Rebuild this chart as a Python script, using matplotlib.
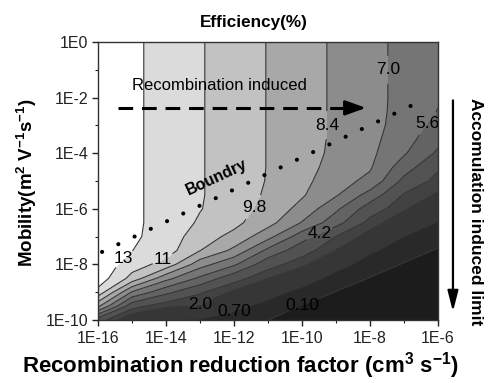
import numpy as np
import matplotlib
matplotlib.use("Agg")
import matplotlib.pyplot as plt

plt.rcParams["font.family"] = ["Liberation Sans", "DejaVu Sans"]
plt.rcParams["mathtext.default"] = "regular"

# log10 of the recombination reduction factor (cm^3 s^-1)
log_rrf = [-16, -15, -14, -13, -12, -11, -10, -9, -8, -7, -6]
# log10 of the mobility (m^2 V^-1 s^-1)
log_mu = [-10, -9.5, -9, -8.5, -8, -7.5, -7, -6.5, -6, -5.5, -5,
          -4.5, -4, -3.5, -3, -2.5, -2, -1, 0]

# efficiency (%) along the mobility axis, one list per recombination factor
eff_rrf_m16 = [3.38, 8.70, 12.15, 13.45, 13.65, 13.65, 13.65, 13.65, 13.65, 13.65,
               13.65, 13.65, 13.65, 13.65, 13.65, 13.65, 13.65, 13.65, 13.65]
eff_rrf_m15 = [1.04, 3.24, 6.86, 10.73, 11.86, 12.62, 12.82, 12.87, 12.87, 12.87,
               12.87, 12.87, 12.87, 12.87, 12.87, 12.87, 12.87, 12.87, 12.87]
eff_rrf_m14 = [0.70, 2.15, 4.55, 7.47, 10.68, 11.85, 12.05, 12.09, 12.09, 12.09,
               12.09, 12.09, 12.09, 12.09, 12.09, 12.09, 12.09, 12.09, 12.09]
eff_rrf_m13 = [0.60, 1.88, 2.95, 5.32, 7.60, 9.83, 10.43, 11.02, 11.26, 11.31,
               11.31, 11.31, 11.31, 11.31, 11.31, 11.31, 11.31, 11.31, 11.31]
eff_rrf_m12 = [0.40, 0.89, 1.81, 3.27, 5.83, 8.06, 9.43, 10.15, 10.45, 10.53,
               10.53, 10.53, 10.53, 10.53, 10.53, 10.53, 10.53, 10.53, 10.53]
eff_rrf_m11 = [0.098, 0.45, 1.00, 2.02, 3.29, 5.23, 7.47, 8.90, 9.30, 9.60,
               9.72, 9.75, 9.75, 9.75, 9.75, 9.75, 9.75, 9.75, 9.75]
eff_rrf_m10 = [0.04, 0.08, 0.44, 1.13, 2.20, 3.31, 4.80, 6.91, 7.97, 8.55,
               8.80, 8.92, 8.97, 8.97, 8.97, 8.97, 8.97, 8.97, 8.97]
eff_rrf_m9 = [0.02, 0.05, 0.08, 0.39, 1.01, 1.97, 2.78, 4.74, 5.88, 7.15,
              7.55, 7.90, 8.10, 8.17, 8.19, 8.19, 8.19, 8.19, 8.19]
eff_rrf_m8 = [0.01, 0.02, 0.04, 0.08, 0.33, 0.82, 1.64, 2.37, 3.46, 5.04,
              6.65, 7.15, 7.32, 7.39, 7.41, 7.41, 7.41, 7.41, 7.41]
eff_rrf_m7 = [0.005, 0.01, 0.02, 0.04, 0.07, 0.30, 0.69, 1.41, 2.10, 2.68,
              3.82, 4.85, 5.75, 6.20, 6.50, 6.60, 6.63, 6.63, 6.63]
eff_rrf_m6 = [0.002, 0.004, 0.008, 0.015, 0.03, 0.06, 0.30, 0.63, 1.22, 1.87,
              2.40, 2.99, 3.97, 4.57, 5.06, 5.55, 5.75, 5.83, 5.85]

# contour levels and the ones carrying a value label
line_levels = [0.1, 0.7, 2.0, 2.8, 4.2, 5.6, 7.0, 8.4, 9.8, 11.2, 12.6]
label_levels = [12.6, 11.2, 9.8, 8.4, 7.0, 5.6, 4.2, 2.0, 0.7, 0.1]

x_tick_labels = ["1E-16", "1E-14", "1E-12", "1E-10", "1E-8", "1E-6"]
y_tick_labels = ["1E-10", "1E-8", "1E-6", "1E-4", "1E-2", "1E0"]

# ---------------------------------------------------------------- styling
band_grays = ["0.11", "0.16", "0.21", "0.26", "0.32", "0.39",
              "0.46", "0.55", "0.66", "0.76", "0.86", "1.0"]
label_spots = [(-15.09, -7.99), (-14.03, -7.99), (-11.29, -6.04), (-9.32, -2.99),
               (-7.47, -1.00), (-6.25, -2.99), (-9.41, -7.12), (-12.97, -9.57),
               (-12.00, -9.68), (-9.97, -9.53)]
spot_of = dict(zip(label_levels, label_spots))


def level_text(v):
    return f"{v:#.2g}".rstrip(".")


fig = plt.figure(figsize=(4.89, 3.83), dpi=100)
ax = fig.add_axes([98 / 489, 1 - 320 / 383, 340 / 489, 278 / 383])

Z = np.column_stack([eff_rrf_m16, eff_rrf_m15, eff_rrf_m14, eff_rrf_m13,
                     eff_rrf_m12, eff_rrf_m11, eff_rrf_m10, eff_rrf_m9,
                     eff_rrf_m8, eff_rrf_m7, eff_rrf_m6])
fill_levels = [0.0] + line_levels + [14.0]

ax.contourf(log_rrf, log_mu, Z, levels=fill_levels, colors=band_grays)

# one contour set per level so every label sits on its own line
for lev in line_levels:
    c = ax.contour(log_rrf, log_mu, Z, levels=[lev],
                   colors="#353535", linewidths=0.8)
    if lev in spot_of:
        texts = c.clabel(manual=[spot_of[lev]], inline=True, inline_spacing=2,
                         fontsize=12.5, colors="k", fmt=level_text)
        for t in texts:
            t.set_rotation(0)

# boundary between the two limiting regimes
ax.plot([-15.88, -6.44], [-7.55, -2.09], color="k", lw=3.0,
        ls=(0, (0.01, 4.3)), dash_capstyle="round")
ax.text(-12.5, -4.86, "Boundry", rotation=25, fontsize=11.5, fontweight="bold",
        ha="center", va="center", rotation_mode="anchor")

# recombination-induced trend arrow
ax.text(-15.0, -1.55, "Recombination induced", fontsize=12, ha="left", va="center")
ax.plot([-15.41, -8.62], [-2.37, -2.37], color="k", lw=2.2, ls=(0, (4.8, 2.9)))
ax.annotate("", xy=(-8.12, -2.37), xytext=(-8.64, -2.37),
            arrowprops=dict(arrowstyle="-|>,head_length=1.25,head_width=0.45",
                            color="k", lw=2.0, shrinkA=0, shrinkB=0))

# accumulation-induced limit arrow at the right
ax.annotate("", xy=(1.044, 0.03), xytext=(1.044, 0.79), xycoords="axes fraction",
            arrowprops=dict(arrowstyle="-|>,head_length=1.25,head_width=0.32",
                            color="k", lw=1.6, shrinkA=0, shrinkB=0),
            annotation_clip=False)
ax.text(1.109, 0.39, "Accomulation induced limit", rotation=-90, transform=ax.transAxes,
        fontsize=12.5, fontweight="bold", ha="center", va="center")

# axes
ax.set_xlim(-16, -6)
ax.set_ylim(-10, 0)
ax.set_xticks([-16, -14, -12, -10, -8, -6])
ax.set_xticklabels(x_tick_labels)
ax.set_xticks([-15, -13, -11, -9, -7], minor=True)
ax.set_yticks([-10, -8, -6, -4, -2, 0])
ax.set_yticklabels(y_tick_labels)
ax.set_yticks([-9, -7, -5, -3, -1], minor=True)
ax.tick_params(which="major", direction="out", length=4, width=1.0,
               labelsize=11.5, pad=3, colors="#222222")
ax.tick_params(which="minor", direction="out", length=2.5, width=0.8, colors="#222222")
ax.tick_params(axis="x", which="major", pad=4)
for s in ax.spines.values():
    s.set_linewidth(1.0)
    s.set_color("#333333")

fig.text(253.5 / 489, 1 - 22 / 383, "Efficiency(%)", fontsize=12.3, fontweight="bold",
         ha="center", va="center")
fig.text(240 / 489, 1 - 366 / 383, "Recombination reduction factor (cm$^3$ s$^{-1}$)",
         fontsize=16, fontweight="bold", ha="center", va="center")
fig.text(27 / 489, 1 - 183 / 383, "Mobility(m$^2$ V$^{-1}$s$^{-1}$)", rotation=90,
         fontsize=13.5, fontweight="bold", ha="center", va="center")

fig.savefig("out.png", dpi=100, facecolor="white")
